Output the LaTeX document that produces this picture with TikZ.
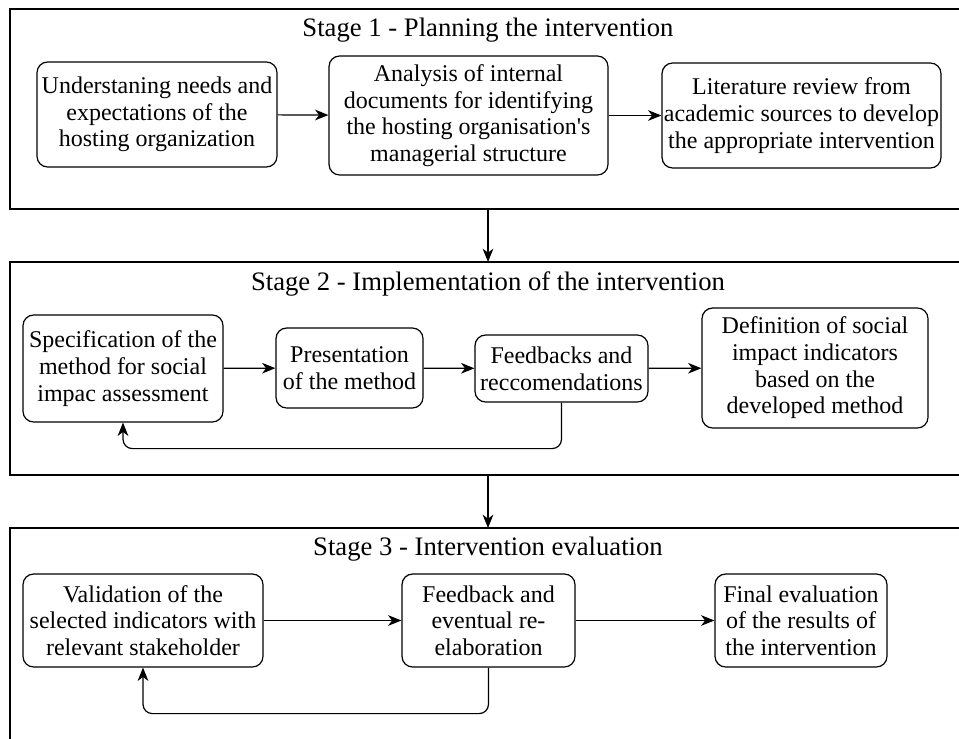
\documentclass[tikz,border=0pt]{standalone}
\usepackage{fontspec}
\setmainfont{Liberation Serif}
\usetikzlibrary{arrows.meta}

\begin{document}
\begin{tikzpicture}[x=0.75pt,y=-0.75pt,
   frame/.style={draw,line width=1pt,inner sep=0pt,outer sep=0pt,minimum width=717pt},
   title/.style={font=\fontsize{20}{22}\selectfont},
   box/.style={draw,rounded corners=8pt,line width=0.9pt,align=center,inner sep=1pt,font=\fontsize{18}{20}\selectfont},
   flow/.style={-{Stealth[length=10pt,width=8pt,inset=3pt]},line width=0.9pt},
   loopback/.style={flow,rounded corners=7pt}]
   \useasboundingbox (0,0) rectangle (959,738);

   \node[frame,minimum height=150pt] (s1) at (488,109) {};
   \node[frame,minimum height=159.75pt] (s2) at (488,368.5) {};
   \node[frame,minimum height=166.5pt] (s3) at (488,639) {};

   \node[title] (t1) at (488,30) {Stage 1 - Planning the intervention};
   \node[title] (t2) at (488,284) {Stage 2 - Implementation of the intervention};
   \node[title] (t3) at (488,549) {Stage 3 - Intervention evaluation};

   \node[box,minimum width=180pt,minimum height=78.75pt] (a1) at (157,114.5)
      {Understaning needs and\\expectations of the\\hosting organization};
   \node[box,minimum width=209.25pt,minimum height=89.25pt] (a2) at (468.5,115.5)
      {Analysis of internal\\documents for identifying\\the hosting organisation\textquotesingle s\\managerial structure};
   \node[box,minimum width=209.25pt,minimum height=78.75pt] (a3) at (801.5,115.5)
      {Literature review from\\academic sources to develop\\the appropriate intervention};

   \node[box,minimum width=150pt,minimum height=80.25pt] (b1) at (123,368.5)
      {Specification of the\\method for social\\impac assessment};
   \node[box,minimum width=110.25pt,minimum height=60pt] (b2) at (349.5,368)
      {Presentation\\of the method};
   \node[box,minimum width=129.75pt,minimum height=50.25pt] (b3) at (561.5,368.5)
      {Feedbacks and\\reccomendations};
   \node[box,minimum width=169.5pt,minimum height=90pt] (b4) at (815,368)
      {Definition of social\\impact indicators\\based on the\\developed method};

   \node[box,minimum width=180pt,minimum height=69.75pt] (c1) at (143,620.5)
      {Validation of the\\selected indicators with\\relevant stakeholder};
   \node[box,minimum width=129.75pt,minimum height=69.75pt] (c2) at (488.5,620.5)
      {Feedback and\\eventual re-\\elaboration};
   \node[box,minimum width=129pt,minimum height=69.75pt] (c3) at (801,620.5)
      {Final evaluation\\of the results of\\the intervention};

   \draw[flow] (a1) -- (a2);
   \draw[flow] (a2) -- (a3);
   \draw[flow] (b1) -- (b2);
   \draw[flow] (b2) -- (b3);
   \draw[flow] (b3) -- (b4);
   \draw[flow] (c1) -- (c2);
   \draw[flow] (c2) -- (c3);
   \draw[loopback] (b3.south) -- ++(0,46) -| (b1.south);
   \draw[loopback] (c2.south) -- ++(0,46) -| (c1.south);
   \draw[flow] (s1.south) -- (s2.north);
   \draw[flow] (s2.south) -- (s3.north);
\end{tikzpicture}
\end{document}
